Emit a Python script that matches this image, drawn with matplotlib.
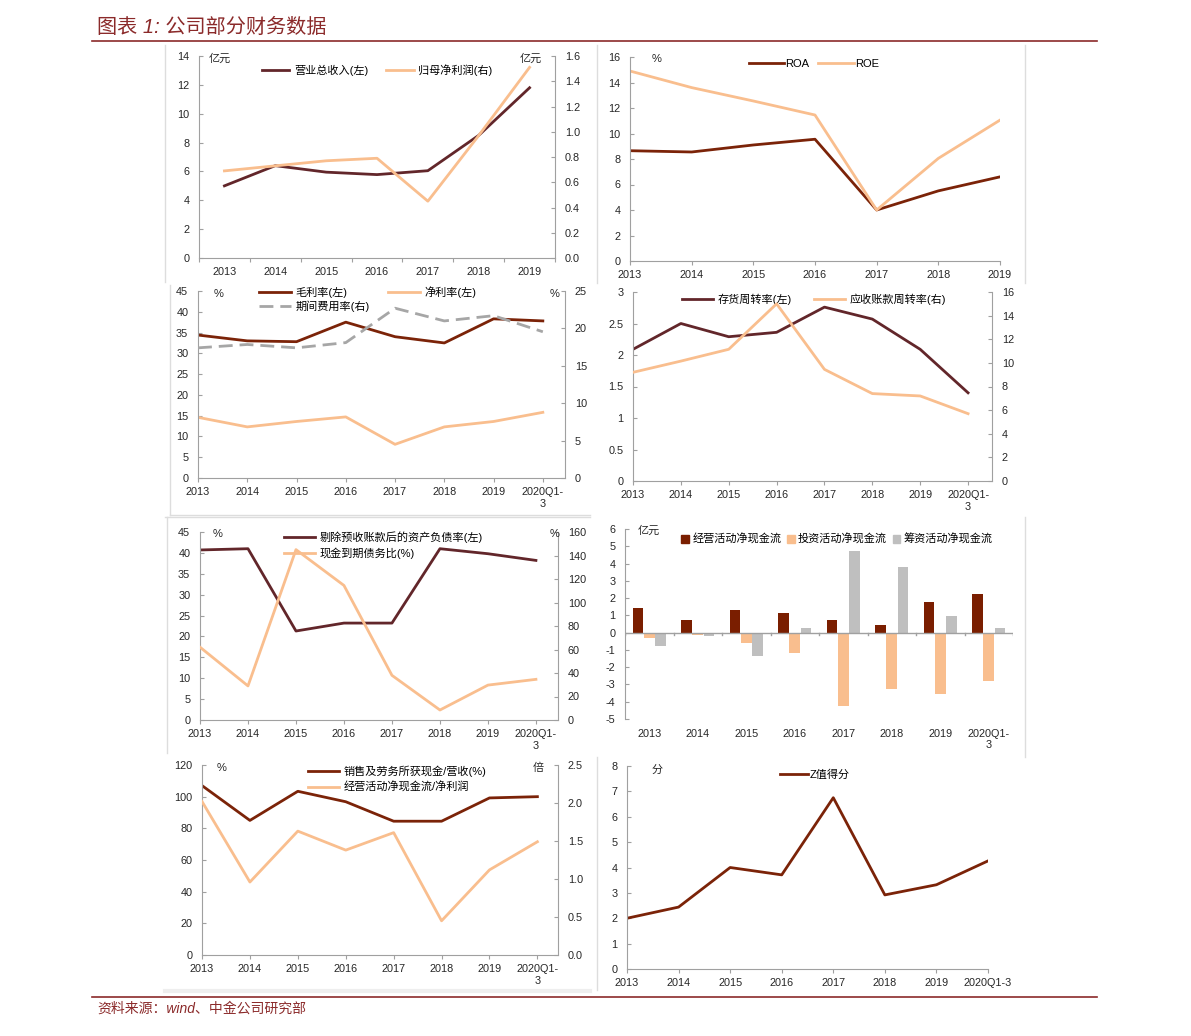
import matplotlib
matplotlib.use('Agg')
import matplotlib.pyplot as plt
import numpy as np
from matplotlib.lines import Line2D
from matplotlib.patches import Patch

plt.rcParams['font.family'] = ['Liberation Sans', 'Noto Sans CJK SC', 'DejaVu Sans']
plt.rcParams['axes.unicode_minus'] = False

W, H = 1191, 1036

# ---- data ----
years7 = ['2013', '2014', '2015', '2016', '2017', '2018', '2019']
years8 = years7 + ['2020Q1-\n3']
years8_flat = years7 + ['2020Q1-3']

revenue = [5.0, 6.4, 5.95, 5.78, 6.05, 8.5, 11.8]
net_profit = [0.69, 0.73, 0.77, 0.79, 0.45, 0.97, 1.51]

roa = [8.65, 8.55, 9.1, 9.55, 4.0, 5.5, 6.6]
roe = [14.9, 13.6, 12.55, 11.45, 4.0, 8.05, 11.05]

gross_margin = [34.4, 33.0, 32.8, 37.5, 34.0, 32.5, 38.3, 37.8]
net_margin = [14.6, 12.3, 13.6, 14.7, 8.1, 12.3, 13.6, 15.8]
expense_ratio = [17.4, 17.85, 17.4, 18.1, 22.7, 21.0, 21.7, 19.55]

inv_turnover = [2.09, 2.50, 2.29, 2.36, 2.76, 2.57, 2.09, 1.40]
ar_turnover = [9.2, 10.15, 11.15, 15.0, 9.45, 7.4, 7.2, 5.7]

adj_debt_ratio = [40.7, 41.0, 21.3, 23.2, 23.2, 41.0, 39.8, 38.2]
cash_debt_ratio = [62, 29, 145, 114.5, 38, 8.5, 29.7, 34.6]

cf_operating = [1.45, 0.71, 1.29, 1.14, 0.75, 0.46, 1.75, 2.22]
cf_investing = [-0.33, -0.13, -0.6, -1.18, -4.24, -3.28, -3.53, -2.81]
cf_financing = [-0.79, -0.19, -1.37, 0.29, 4.70, 3.80, 0.96, 0.29]

cash_to_sales = [107, 85, 103.4, 96.8, 84.5, 84.5, 99.2, 100]
ocf_to_np = [2.02, 0.96, 1.63, 1.38, 1.61, 0.45, 1.12, 1.49]

z_score = [2.0, 2.44, 4.0, 3.71, 6.75, 2.92, 3.32, 4.26]

# ---- colours ----
DARK1 = '#62262A'
DARK = '#7B2308'
ORANGE = '#F9BE8E'
GRAY_D = '#A6A6A6'
GRAY_B = '#BFBFBF'
AXIS = '#A0A0A0'
TXT = '#262626'
RED = '#8B2A2A'
FRAME = '#DDDDDD'
FS = 7.8
LFS = 8

fig = plt.figure(figsize=(W / 100, H / 100), dpi=100)


def box(l, t, r, b):
    return [l / W, 1 - b / H, (r - l) / W, (b - t) / H]


def ftext(x, y, s, **kw):
    kw.setdefault('fontsize', LFS)
    kw.setdefault('color', TXT)
    fig.text(x / W, 1 - y / H, s, va='center', **kw)


def fline(x0, y0, x1, y1, color=FRAME, lw=1):
    fig.add_artist(Line2D([x0 / W, x1 / W], [1 - y0 / H, 1 - y1 / H], color=color, lw=lw))


def style(ax):
    for s in ['top', 'right']:
        ax.spines[s].set_visible(False)
    for s in ['left', 'bottom']:
        ax.spines[s].set_color(AXIS)
    ax.tick_params(labelsize=FS, colors=AXIS, labelcolor=TXT)
    ax.tick_params(axis='y', direction='in', length=3, pad=7)
    ax.tick_params(axis='x', direction='out', length=3, pad=3.5)


def twin(ax):
    ax2 = ax.twinx()
    for s in ['top', 'left', 'bottom']:
        ax2.spines[s].set_visible(False)
    ax2.spines['right'].set_color(AXIS)
    ax2.tick_params(labelsize=FS, colors=AXIS, labelcolor=TXT, direction='in', length=3, pad=7)
    return ax2


def cat_axis(ax, labels, xmax=None, between=False):
    n = len(labels)
    x = np.arange(n)
    if between:
        ax.set_xlim(-0.5, n - 0.5)
        ax.set_xticks(np.arange(-0.5, n), [''] * (n + 1))
        ax.set_xticks(x, labels, minor=True)
        ax.tick_params(axis='x', which='minor', length=0, pad=6.5, labelsize=FS, labelcolor=TXT)
    else:
        ax.set_xlim(0, xmax)
        ax.set_xticks(x, labels)
    return x


def yaxis(ax, lo, hi, step, fmt='{:g}'):
    ticks = np.arange(lo, hi + step / 2, step)
    ax.set_ylim(lo, hi)
    ax.set_yticks(ticks, [fmt.format(v) for v in ticks])


# ---- header / footer ----
ftext(97, 27, '图表 1: 公司部分财务数据', fontsize=14.5, color=RED, style='italic')
fline(92, 41, 1097, 41, color=RED, lw=1.2)
fline(92, 997, 1097, 997, color=RED, lw=1.2)
ftext(97, 1009, '资料来源：wind、中金公司研究部', fontsize=10, color=RED, style='italic')

# panel frames (light)
fline(165, 45, 165, 282)
fline(597, 45, 597, 283)
fline(1025, 45, 1025, 283)
fline(170, 285, 170, 515)
fline(170, 515, 590, 515)
fline(165, 517, 590, 517)
fline(167, 517, 167, 753)
fline(1025, 517, 1025, 757)
fline(597, 757, 597, 990)
fline(165, 991, 590, 991, color='#EEEEEE', lw=3)

# ---- panel 1: revenue / net profit ----
ax = fig.add_axes(box(199, 56, 555, 258))
style(ax)
x = cat_axis(ax, years7, between=True)
yaxis(ax, 0, 14, 2)
ax2 = twin(ax)
yaxis(ax2, 0, 1.6, 0.2, '{:.1f}')
l1, = ax.plot(x, revenue, color=DARK1, lw=2)
l2, = ax2.plot(x, net_profit, color=ORANGE, lw=2)
ax.legend([l1, l2], ['营业总收入(左)', '归母净利润(右)'], loc='center', bbox_to_anchor=(377 / W, 1 - 70 / H),
          bbox_transform=fig.transFigure, ncol=2, frameon=False, fontsize=LFS, handlelength=2.5,
          columnspacing=1.6, handletextpad=0.4)
ftext(209, 59, '亿元')
ftext(520, 59, '亿元')

# ---- panel 2: ROA / ROE ----
ax = fig.add_axes(box(630, 57, 1000, 261))
style(ax)
x = cat_axis(ax, years7, xmax=6)
yaxis(ax, 0, 16, 2)
l1, = ax.plot(x, roa, color=DARK, lw=2)
l2, = ax.plot(x, roe, color=ORANGE, lw=2)
ax.legend([l1, l2], ['ROA', 'ROE'], loc='center', bbox_to_anchor=(814 / W, 1 - 64 / H),
          bbox_transform=fig.transFigure, ncol=2, frameon=False, fontsize=8, handlelength=3.2,
          columnspacing=0.8, handletextpad=0.1)
ftext(652, 59, '%')

# ---- panel 3: margins ----
ax = fig.add_axes(box(198, 291, 565, 478))
style(ax)
x = cat_axis(ax, years8, xmax=7.45)
yaxis(ax, 0, 45, 5)
ax2 = twin(ax)
yaxis(ax2, 0, 25, 5)
l1, = ax.plot(x, gross_margin, color=DARK, lw=2)
l2, = ax.plot(x, net_margin, color=ORANGE, lw=2)
l3, = ax2.plot(x, expense_ratio, color=GRAY_D, lw=2, dashes=(5, 2.5))
ax.legend([l1, l3, l2], ['毛利率(左)', '期间费用率(右)', '净利率(左)'], loc='upper left',
          bbox_to_anchor=(258 / W, 1 - 285 / H), bbox_transform=fig.transFigure, ncol=2, frameon=False,
          fontsize=LFS, handlelength=2.9, columnspacing=1.6, handletextpad=0.4, labelspacing=0.2,
          borderaxespad=0, borderpad=0.1)
ftext(214, 294, '%')
ftext(550, 294, '%')

# ---- panel 4: turnover ----
ax = fig.add_axes(box(633, 292, 992, 481))
style(ax)
x = cat_axis(ax, years8, xmax=7.5)
yaxis(ax, 0, 3, 0.5)
ax2 = twin(ax)
yaxis(ax2, 0, 16, 2)
l1, = ax.plot(x, inv_turnover, color=DARK1, lw=2)
l2, = ax2.plot(x, ar_turnover, color=ORANGE, lw=2)
ax.legend([l1, l2], ['存货周转率(左)', '应收账款周转率(右)'], loc='center', bbox_to_anchor=(814 / W, 1 - 299 / H),
          bbox_transform=fig.transFigure, ncol=2, frameon=False, fontsize=LFS, handlelength=2.8,
          columnspacing=2.0, handletextpad=0.4)

# ---- panel 5: debt ratios ----
ax = fig.add_axes(box(200, 532, 558, 720))
style(ax)
x = cat_axis(ax, years8, xmax=7.46)
yaxis(ax, 0, 45, 5)
ax2 = twin(ax)
yaxis(ax2, 0, 160, 20)
l1, = ax.plot(x, adj_debt_ratio, color=DARK1, lw=2)
l2, = ax2.plot(x, cash_debt_ratio, color=ORANGE, lw=2)
ax.legend([l1, l2], ['剔除预收账款后的资产负债率(左)', '现金到期债务比(%)'], loc='upper left',
          bbox_to_anchor=(283 / W, 1 - 530 / H), bbox_transform=fig.transFigure, ncol=1, frameon=False,
          fontsize=LFS, handlelength=2.8, handletextpad=0.4, labelspacing=0.4, borderaxespad=0, borderpad=0.1)
ftext(213, 534, '%')
ftext(550, 534, '%')

# ---- panel 6: cash flow bars ----
ax = fig.add_axes(box(625, 529, 1013, 719))
style(ax)
ax.spines['bottom'].set_visible(False)
x = np.arange(len(years8))
ax.set_xlim(-0.5, len(years8) - 0.5)
ax.set_xticks(x, years8)
ax.tick_params(axis='x', length=0, pad=7)
yaxis(ax, -5, 6, 1)
bw = 0.22
ax.bar(x - 0.23, cf_operating, bw, color='#7A1E00')
ax.bar(x, cf_investing, bw, color=ORANGE)
ax.bar(x + 0.23, cf_financing, bw, color=GRAY_B)
ax.axhline(0, color=AXIS, lw=1)
for b in np.arange(-0.5, len(years8)):
    ax.plot([b, b], [0, -0.12], color=AXIS, lw=1)
handles = [Patch(color='#7A1E00'), Patch(color=ORANGE), Patch(color=GRAY_B)]
ax.legend(handles, ['经营活动净现金流', '投资活动净现金流', '筹资活动净现金流'], loc='center',
          bbox_to_anchor=(837 / W, 1 - 539 / H), bbox_transform=fig.transFigure, ncol=3, frameon=False,
          fontsize=LFS, handlelength=0.7, handleheight=0.7, columnspacing=0.5, handletextpad=0.3)
ftext(638, 531, '亿元')

# ---- panel 7: cash quality ----
ax = fig.add_axes(box(202, 765, 558, 955))
style(ax)
x = cat_axis(ax, years8, xmax=7.43)
yaxis(ax, 0, 120, 20)
ax2 = twin(ax)
yaxis(ax2, 0, 2.5, 0.5, '{:.1f}')
l1, = ax.plot(x, cash_to_sales, color=DARK, lw=2)
l2, = ax2.plot(x, ocf_to_np, color=ORANGE, lw=2)
ax.legend([l1, l2], ['销售及劳务所获现金/营收(%)', '经营活动净现金流/净利润'], loc='upper left',
          bbox_to_anchor=(307 / W, 1 - 764 / H), bbox_transform=fig.transFigure, ncol=1, frameon=False,
          fontsize=LFS, handlelength=2.8, handletextpad=0.4, labelspacing=0.5, borderaxespad=0, borderpad=0.1)
ftext(217, 768, '%')
ftext(533, 768, '倍')

# ---- panel 8: Z score ----
ax = fig.add_axes(box(627, 766, 988, 969))
style(ax)
x = cat_axis(ax, years8_flat, xmax=7)
yaxis(ax, 0, 8, 1)
l1, = ax.plot(x, z_score, color=DARK, lw=2)
ax.legend([l1], ['Z值得分'], loc='center', bbox_to_anchor=(815 / W, 1 - 775 / H),
          bbox_transform=fig.transFigure, frameon=False, fontsize=LFS, handlelength=2.5, handletextpad=0.1)
ftext(652, 770, '分')

fig.savefig('out.png', dpi=100)
